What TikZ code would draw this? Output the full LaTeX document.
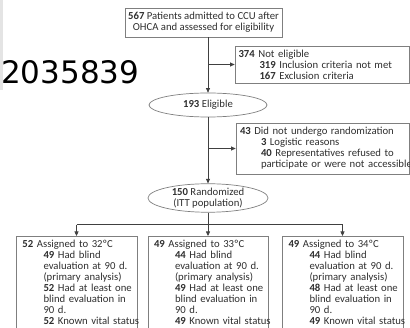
\documentclass[tikz,border=0pt]{standalone}
\usepackage{fontspec}
\setmainfont{Carlito}
\newfontfamily\digitfont{DejaVu Sans}
\usetikzlibrary{arrows.meta,shapes.geometric}
\definecolor{txt}{HTML}{2E2E2E}
\definecolor{bordc}{HTML}{7F7F7F}
\definecolor{linec}{HTML}{404040}
\definecolor{stripc}{HTML}{E4E4E4}
\newcommand\indline[1]{\mbox{\hspace{21pt}#1}}
\begin{document}
\begin{tikzpicture}[x=1pt,y=-1pt,
  every node/.style={font=\fontsize{10.7}{11}\selectfont, text=txt},
  box/.style={draw=bordc, line width=0.7pt, rectangle, inner sep=0pt},
  oval/.style={draw=bordc, line width=0.7pt, ellipse, inner sep=0pt},
  conn/.style={draw=linec, line width=0.7pt},
  arr/.style={conn, -{Triangle[length=4.5pt,width=4pt]}},
  lowbox/.style={box, anchor=north, minimum width=121pt, text width=108pt,
    align=left, inner ysep=4pt, text depth=100pt}]
\useasboundingbox (0,0) rectangle (410,328);
\fill[stripc] (0,0) rectangle (2.5,90);
\node[anchor=base west, font=\digitfont\fontsize{31}{32}\selectfont, text=black, inner sep=0pt] (id) at (1,84) {2035839};

\node[box, minimum width=157pt, minimum height=29pt, align=center] (top) at (203.5,22.5)
  {\textbf{567} Patients admitted to CCU after\\OHCA and assessed for eligibility};
\node[box, minimum width=174pt, minimum height=37pt, text width=167pt, align=left] (ne) at (322,64.5)
  {\textbf{374} Not eligible\\
   \indline{\textbf{319} Inclusion criteria not met}\\
   \indline{\textbf{167} Exclusion criteria}};
\node[oval, minimum width=118pt, minimum height=24pt] (e1) at (208,105) {\textbf{193} Eligible};
\node[box, minimum width=173pt, minimum height=51pt, text width=165pt, align=left] (nr) at (322.5,148.5)
  {\textbf{43} Did not undergo randomization\\
   \indline{\textbf{3} Logistic reasons}\\
   \indline{\textbf{40} Representatives refused to}\\
   \indline{participate or were not accessible}};
\node[oval, minimum width=120pt, minimum height=26pt, align=center] (e2) at (208,198)
  {\textbf{150} Randomized\\(ITT population)};

\node[lowbox] (b1) at (76.5,236)
  {\textbf{52} Assigned to 32ºC\\
   \indline{\textbf{49} Had blind}\\
   \indline{evaluation at 90 d.}\\
   \indline{(primary analysis)}\\
   \indline{\textbf{52} Had at least one}\\
   \indline{blind evaluation in}\\
   \indline{90 d.}\\
   \indline{\textbf{52} Known vital status}};
\node[lowbox, minimum width=120pt] (b2) at (208,236)
  {\textbf{49} Assigned to 33ºC\\
   \indline{\textbf{44} Had blind}\\
   \indline{evaluation at 90 d.}\\
   \indline{(primary analysis)}\\
   \indline{\textbf{49} Had at least one}\\
   \indline{blind evaluation in}\\
   \indline{90 d.}\\
   \indline{\textbf{49} Known vital status}};
\node[lowbox] (b3) at (342.5,236)
  {\textbf{49} Assigned to 34ºC\\
   \indline{\textbf{44} Had blind}\\
   \indline{evaluation at 90 d.}\\
   \indline{(primary analysis)}\\
   \indline{\textbf{48} Had at least one}\\
   \indline{blind evaluation in}\\
   \indline{90 d.}\\
   \indline{\textbf{49} Known vital status}};

\draw[arr] (top.south -| e1.north) -- (e1.north);
\draw[arr] (e1.center |- ne.west) -- (ne.west);
\draw[arr] (e1.south) -- (e2.north);
\draw[arr] (e1.center |- nr.west) -- (nr.west);
\draw[conn] (e2.south) -- ++(0,12) coordinate (br);
\draw[conn] (b1.north |- br) -- (b3.north |- br);
\draw[arr] (b1.north |- br) -- (b1.north);
\draw[arr] (e2.south) -- (b2.north);
\draw[arr] (b3.north |- br) -- (b3.north);
\end{tikzpicture}
\end{document}
